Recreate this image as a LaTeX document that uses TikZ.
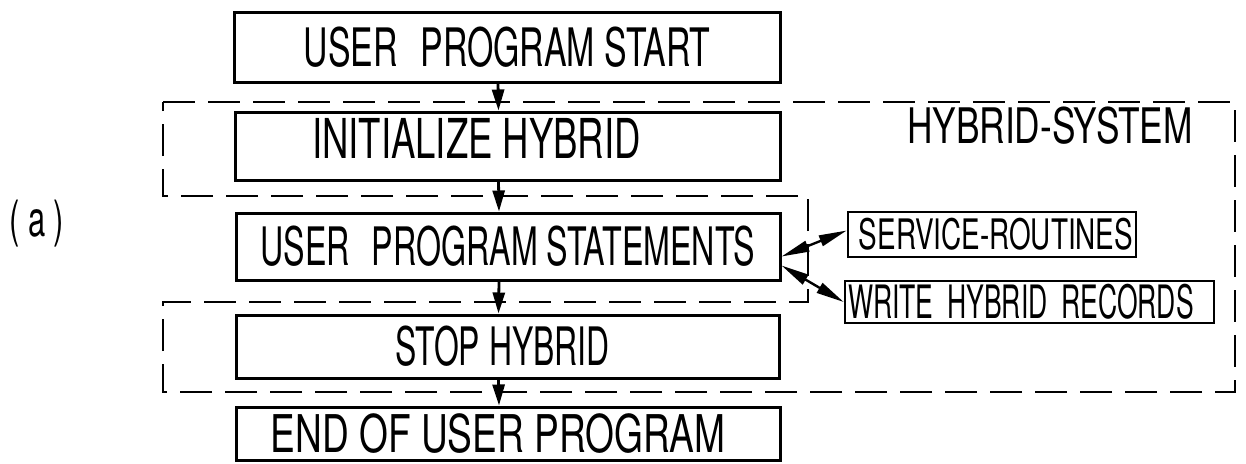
\documentclass[tikz,border=0pt]{standalone}
\usepackage{fontspec}
\newfontfamily\din[FakeStretch=0.62]{TeX Gyre Heros}
\usetikzlibrary{arrows.meta}
\begin{document}
\begin{tikzpicture}[x=1pt,y=-1pt,
  box/.style={draw, line width=3pt, inner sep=0pt, align=center},
  bigtxt/.style={font=\din\fontsize{53}{60}\selectfont},
  smalltxt/.style={font=\din\fontsize{42}{48}\selectfont},
  flow/.style={line width=2.8pt, -{Triangle[length=21pt,width=12pt]}},
  link/.style={line width=2.4pt, {Triangle[length=28pt,width=11pt]}-{Triangle[length=28pt,width=11pt]}},
  region/.style={line width=2.2pt, dash pattern=on 32pt off 13pt}
]
\useasboundingbox (0,0) rectangle (1246,463);

\node[box, bigtxt, minimum width=546pt, minimum height=70pt] (b1) at (507,47) {\scalebox{1.03}[1]{USER\hspace{0.25em} PROGRAM START}};
\node[box, bigtxt, font=\din\fontsize{55}{60}\selectfont, text depth=16pt, minimum width=545pt, minimum height=68pt] (b2) at (507.5,146) {\scalebox{1.07}[1]{INITIALIZE HYBRID}\hspace*{62pt}};
\node[box, bigtxt, minimum width=544pt, minimum height=67pt] (b3) at (508,246.5) {\scalebox{0.98}[1]{USER\hspace{0.25em} PROGRAM STATEMENTS}};
\node[box, bigtxt, minimum width=543pt, minimum height=63pt] (b4) at (507.5,346.5) {\scalebox{0.97}[1]{STOP HYBRID}\hspace*{10pt}};
\node[box, bigtxt, font=\din\fontsize{52}{60}\selectfont, text height=39pt, minimum width=544pt, minimum height=53pt] (b5) at (508,433.5) {\scalebox{1.15}[1]{END OF USER PROGRAM}\hspace*{20pt}};

\node[box, smalltxt, line width=2.6pt, minimum width=288pt, minimum height=45pt] (svc) at (992,234.5) {\hspace*{8pt}\scalebox{1.07}[1]{SERVICE-ROUTINES}};
\node[box, line width=2.6pt, font=\din\fontsize{46}{50}\selectfont, minimum width=369pt, minimum height=42pt] (wr) at (1029.5,302) {\scalebox{0.93}[1]{WRITE\hspace{0.15em} HYBRID\hspace{0.15em} RECORDS}\hspace*{17pt}};

\node[inner sep=0pt, anchor=east, font=\din\fontsize{49}{55}\selectfont] (hs) at (1193,125.5) {\scalebox{1.16}[1]{HYBRID-SYSTEM}};
\node[inner sep=0pt, font=\din\fontsize{50}{55}\selectfont] (lbl) at (37,224) {(\,a\,)};

\draw[region] (163,102) -- (1235,102) -- (1235,392) -- (163,392) -- (163,302) -- (808,302) -- (808,196) -- (163,196) -- cycle;

\draw[flow] ([xshift=-9pt]b1.south) -- ([xshift=-9pt]b2.north);
\draw[flow] ([xshift=-9pt]b2.south) -- ([xshift=-9pt]b3.north);
\draw[flow] ([xshift=-9pt]b3.south) -- ([xshift=-9pt]b4.north);
\draw[flow] ([xshift=-9pt]b4.south) -- ([xshift=-9pt]b5.north);

\draw[link] ([yshift=-10pt]b3.east) -- ([yshift=4pt]svc.west);
\draw[link] ([yshift=-19pt]b3.east) -- (wr.west);
\end{tikzpicture}
\end{document}
